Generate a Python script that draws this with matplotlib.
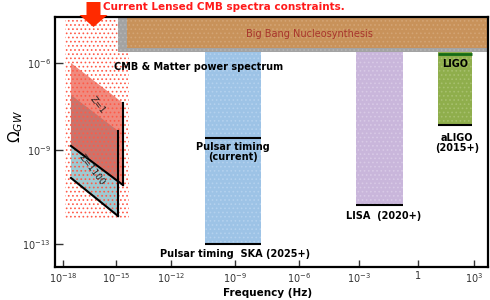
import numpy as np
import matplotlib
matplotlib.use("Agg")
import matplotlib.pyplot as plt
import matplotlib.patches as mpatches
from matplotlib.ticker import FixedLocator, FixedFormatter

# ---------------- data (log10 values) ----------------
x_ticks_log = [-18, -15, -12, -9, -6, -3, 0, 3]
x_tick_labels = [r"$10^{-18}$", r"$10^{-15}$", r"$10^{-12}$", r"$10^{-9}$",
                 r"$10^{-6}$", r"$10^{-3}$", "1", r"$10^{3}$"]
y_ticks_log = [-6, -9, -13]
y_tick_labels = [r"$10^{-6}$", r"$10^{-9}$", r"$10^{-13}$"]

# frequency ranges (Hz)
lensed_f = [10**-17.9, 10**-14.3]
lensed_omega_low = 10**-11.9
cmb_f_low = 10**-14.9
cmb_omega_low = 10**-5.62
bbn_f_low = 10**-14.4
bbn_omega_low = 10**-5.49
pulsar_f = [10**-10.4, 10**-7.8]
pulsar_current_omega = 10**-8.6
pulsar_ska_omega = 1e-13
lisa_f = [10**-3.15, 10**-0.76]
lisa_omega = 10**-11.35
ligo_f = [10**1.07, 10**2.9]
ligo_omega = 10**-5.7
aligo_omega = 10**-8.15

# inflationary bounds (parallelograms)
z1_f = [10**-17.55, 10**-14.62]
z1_upper = [10**-6.0, 10**-7.38]
z1_lower = [10**-8.86, 10**-10.49]
z1100_f = [10**-17.55, 10**-14.89]
z1100_upper = [10**-7.1, 10**-8.34]
z1100_lower = [10**-10.19, 10**-11.81]

# ---------------- schematic (non-uniform) log scales ----------------
XL = np.array([-18.45, -18, -15, -12, -9, -6, -3, 0, 3, 3.75])
XP = np.array([55, 63, 116, 171, 235, 299, 359, 418, 474, 488], float)
YL = np.array([-14.0, -13, -9, -6, -4.43])
YP = -np.array([267, 244, 150, 63, 17], float)


def xf(v):
    return np.interp(np.log10(np.clip(v, 1e-300, None)), XL, XP)


def xi(p):
    return 10 ** np.interp(p, XP, XL)


def yf(v):
    return np.interp(np.log10(np.clip(v, 1e-300, None)), YL, YP)


def yi(p):
    return 10 ** np.interp(p, YP, YL)


plt.rcParams["hatch.linewidth"] = 0.7

fig = plt.figure(figsize=(4.9, 3.0), dpi=100)
ax = fig.add_axes([55 / 490, 33 / 300, 433 / 490, 250 / 300])
ax.set_xscale("function", functions=(xf, xi))
ax.set_yscale("function", functions=(yf, yi))
xmin, xmax = 10**XL[0], 10**XL[-1]
ymin, ymax = 10**YL[0], 10**YL[-1]
ax.set_xlim(xmin, xmax)
ax.set_ylim(ymin, ymax)


def band(x0, x1, y0, y1, fc, hc, z):
    ax.add_patch(mpatches.Rectangle((x0, y0), x1 - x0, y1 - y0, facecolor=fc,
                                    edgecolor="none", zorder=z))
    if hc is not None:
        ax.add_patch(mpatches.Rectangle((x0, y0), x1 - x0, y1 - y0, facecolor="none",
                                        edgecolor=hc, hatch="....", linewidth=0,
                                        zorder=z + 0.01))


# lensed CMB constraint (red dotted region, drawn over the parallelograms)
band(lensed_f[0], lensed_f[1], lensed_omega_low, ymax, "none", "#FF5A48", 2.7)

# CMB & matter power spectrum (grey) and BBN (brown)
band(cmb_f_low, xmax, cmb_omega_low, ymax, "#A3A3A3", "#B4B4B4", 3)
band(bbn_f_low, xmax, bbn_omega_low, ymax, "#C8925A", "#D3A474", 4)

# pulsar timing
band(pulsar_f[0], pulsar_f[1], pulsar_ska_omega, cmb_omega_low, "#9DC3E6", "#B3D1EE", 2)
ax.hlines([pulsar_current_omega, pulsar_ska_omega], pulsar_f[0], pulsar_f[1],
          colors="black", linewidth=1.5, zorder=5)

# LISA
band(lisa_f[0], lisa_f[1], lisa_omega, cmb_omega_low, "#C9B6DB", "#D8C9E6", 2)
ax.hlines(lisa_omega, lisa_f[0], lisa_f[1], colors="black", linewidth=1.5, zorder=5)

# LIGO
band(ligo_f[0], ligo_f[1], aligo_omega, cmb_omega_low, "#8FAE4C", "#A7C06E", 2)
ax.hlines(ligo_omega, ligo_f[0], ligo_f[1], colors="#146B14", linewidth=2, zorder=5)
ax.hlines(aligo_omega, ligo_f[0], ligo_f[1], colors="black", linewidth=1.5, zorder=5)

# Z=1100 (teal) and Z=1 (red) parallelograms
ax.add_patch(mpatches.Polygon([(z1100_f[0], z1100_upper[0]), (z1100_f[1], z1100_upper[1]),
                               (z1100_f[1], z1100_lower[1]), (z1100_f[0], z1100_lower[0])],
                              closed=True, facecolor="#9ECAD2", edgecolor="none", zorder=2))
ax.add_patch(mpatches.Polygon([(z1_f[0], z1_upper[0]), (z1_f[1], z1_upper[1]),
                               (z1_f[1], z1_lower[1]), (z1_f[0], z1_lower[0])],
                              closed=True, facecolor="#E63C28", alpha=0.6,
                              edgecolor="none", zorder=2.5))
ax.plot(z1_f, z1_lower, color="black", lw=1.5, zorder=5)
ax.plot([z1_f[1], z1_f[1]], [z1_upper[1], z1_lower[1]], color="black", lw=1.5, zorder=5)
ax.plot(z1100_f, z1100_lower, color="black", lw=1.5, zorder=5)
ax.plot([z1100_f[1], z1100_f[1]], [z1100_upper[1], z1100_lower[1]], color="black",
        lw=1.5, zorder=5)

# ---------------- text ----------------
bold = dict(fontweight="bold", fontsize=7, color="black", zorder=6)
ax.text(10**-10.73, 10**-6.15, "CMB & Matter power spectrum", ha="center", va="center", **bold)
ax.text(10**-5.5, 10**-5.0, "Big Bang Nucleosynthesis", ha="center", va="center",
        fontsize=7, color="#A8352C", zorder=6)
ax.text(10**-9.1, 10**-9.1, "Pulsar timing\n(current)", ha="center", va="center",
        linespacing=1.0, **bold)
ax.text(10**-9.0, 10**-13.45, "Pulsar timing  SKA (2025+)", ha="center", va="center", **bold)
ax.text(10**-1.75, 10**-11.8, "LISA  (2020+)", ha="center", va="center", **bold)
ax.text(10**2.0, 10**-6.05, "LIGO", ha="center", va="center", **bold)
ax.text(10**2.1, 10**-8.75, "aLIGO\n(2015+)", ha="center", va="center",
        linespacing=1.0, **bold)
ax.text(10**-16.02, 10**-7.45, "Z=1", rotation=-52, ha="center", va="center",
        fontsize=6.5, color="#222222", zorder=6)
ax.text(10**-16.36, 10**-9.85, "Z=1100", rotation=-52, ha="center", va="center",
        fontsize=6.5, color="#222222", zorder=6)

fig.text(103 / 490, 1 - 7 / 300, "Current Lensed CMB spectra constraints.",
         ha="left", va="center", fontsize=7.5, fontweight="bold", color="#FF1A1A")
fig.patches.append(mpatches.FancyArrow(93.5 / 490, 1 - 2 / 300, 0, -(25 / 300),
                                       width=14 / 490, head_width=28 / 490,
                                       head_length=12 / 300, length_includes_head=True,
                                       transform=fig.transFigure, figure=fig,
                                       facecolor="#FF2A00", edgecolor="none"))

# ---------------- axes styling ----------------
ax.xaxis.set_major_locator(FixedLocator([10.0**v for v in x_ticks_log]))
ax.xaxis.set_major_formatter(FixedFormatter(x_tick_labels))
ax.yaxis.set_major_locator(FixedLocator([10.0**v for v in y_ticks_log]))
ax.yaxis.set_major_formatter(FixedFormatter(y_tick_labels))
ax.xaxis.set_minor_locator(FixedLocator([]))
ax.yaxis.set_minor_locator(FixedLocator([]))
ax.tick_params(direction="in", length=5, width=1, labelsize=7, colors="#333333", pad=3)
ax.tick_params(axis="y", length=6)
for s in ax.spines.values():
    s.set_linewidth(1.6)
    s.set_zorder(10)
ax.set_xlabel("Frequency (Hz)", fontsize=7.5, fontweight="bold")
ax.xaxis.set_label_coords(0.49, -0.085)
ax.set_ylabel(r"$\Omega_{GW}$", fontsize=11)
ax.yaxis.set_label_coords(-0.07, 0.56)

fig.savefig("out.png", dpi=100)
